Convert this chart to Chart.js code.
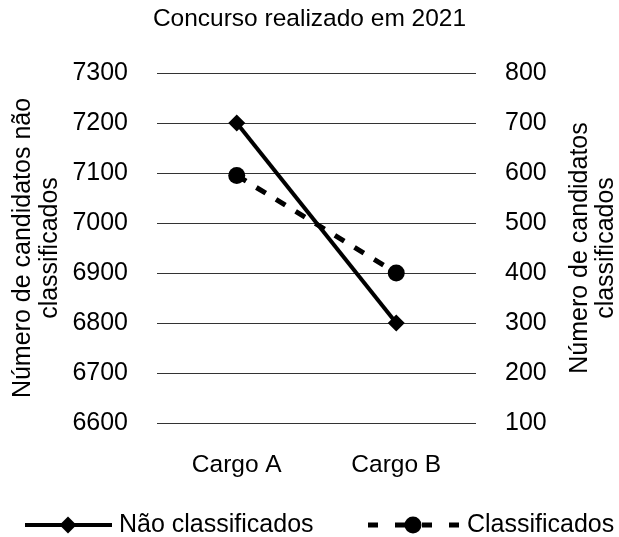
<!DOCTYPE html>
<html>
<head>
<meta charset="utf-8">
<script src="https://cdn.jsdelivr.net/npm/chart.js@4"></script>
<style>
  html, body { margin: 0; padding: 0; background: #fff; }
  #c { display: block; }
</style>
</head>
<body>
<canvas id="c" width="619" height="537"></canvas>
<script>
// Data
const categories = ['Cargo A', 'Cargo B'];
const naoClassificados = [7200, 6800];
const classificados = [595, 400];
const leftRange = [6600, 7300];
const rightRange = [100, 800];
const tickStep = 100;

// Texts
const chartTitle = 'Concurso realizado em 2021';
const leftAxisTitle = ['Número de candidatos não', 'classificados'];
const rightAxisTitle = ['Número de candidatos', 'classificados'];
const seriesNames = ['Não classificados', 'Classificados'];

const FONT = '"Liberation Sans", Arial, sans-serif';
const FONT_SIZE = 25;
const INK = '#000';

// Side titles (both read bottom-to-top) and bottom legend
const decorations = {
  id: 'decorations',
  afterDraw(chart) {
    const ctx = chart.ctx;
    const area = chart.chartArea;
    const cy = (area.top + area.bottom) / 2;
    ctx.save();
    ctx.fillStyle = INK;
    ctx.font = FONT_SIZE + 'px ' + FONT;
    ctx.textAlign = 'center';
    ctx.textBaseline = 'middle';
    const drawVertical = (lines, xs) => {
      lines.forEach((t, i) => {
        ctx.save();
        ctx.translate(xs[i], cy);
        ctx.rotate(-Math.PI / 2);
        ctx.fillText(t, 0, 0);
        ctx.restore();
      });
    };
    drawVertical(leftAxisTitle, [23, 50]);
    drawVertical(rightAxisTitle, [580, 606]);

    // legend
    const ly = 525;
    const ds = chart.data.datasets;
    // solid series
    ctx.strokeStyle = ds[0].borderColor;
    ctx.lineWidth = ds[0].borderWidth;
    ctx.setLineDash([]);
    ctx.beginPath();
    ctx.moveTo(25, ly); ctx.lineTo(112, ly);
    ctx.stroke();
    ctx.fillStyle = INK;
    ctx.beginPath();
    const dx = 68, r = 8.5;
    ctx.moveTo(dx, ly - r); ctx.lineTo(dx + r, ly); ctx.lineTo(dx, ly + r); ctx.lineTo(dx - r, ly);
    ctx.closePath();
    ctx.fill();
    ctx.textAlign = 'left';
    ctx.fillText(seriesNames[0], 119, ly);

    // dashed series
    ctx.strokeStyle = ds[1].borderColor;
    ctx.lineWidth = ds[1].borderWidth;
    ctx.setLineDash([10, 17]);
    ctx.beginPath();
    ctx.moveTo(368, ly); ctx.lineTo(459, ly);
    ctx.stroke();
    ctx.setLineDash([]);
    ctx.beginPath();
    ctx.arc(413, ly, 8.5, 0, Math.PI * 2);
    ctx.fill();
    ctx.fillText(seriesNames[1], 467, ly);
    ctx.restore();
  }
};

const plainTick = (v) => String(v);

new Chart(document.getElementById('c'), {
  type: 'line',
  data: {
    labels: categories,
    datasets: [
      {
        label: seriesNames[0],
        data: naoClassificados,
        yAxisID: 'y',
        borderColor: INK,
        backgroundColor: INK,
        borderWidth: 4,
        pointStyle: 'rectRot',
        pointRadius: 8.5,
        pointBorderWidth: 0,
        pointBackgroundColor: INK,
        tension: 0
      },
      {
        label: seriesNames[1],
        data: classificados,
        yAxisID: 'y1',
        borderColor: INK,
        backgroundColor: INK,
        borderWidth: 5,
        borderDash: [11, 12],
        pointStyle: 'circle',
        pointRadius: 8.5,
        pointBorderWidth: 0,
        pointBackgroundColor: INK,
        tension: 0
      }
    ]
  },
  options: {
    responsive: false,
    animation: false,
    layout: { padding: { top: 0, bottom: 54, left: 0, right: 0 } },
    plugins: {
      legend: { display: false },
      tooltip: { enabled: false },
      title: {
        display: true,
        text: chartTitle,
        color: INK,
        font: { family: FONT, size: 24.5, weight: 'normal' },
        padding: { top: 5, bottom: 38.6 }
      }
    },
    scales: {
      x: {
        offset: true,
        grid: { display: false, drawTicks: false },
        border: { display: false },
        ticks: { color: INK, font: { family: FONT, size: 24.5 }, padding: 28 },
        afterFit(s) { s.height = 60; }
      },
      y: {
        position: 'left',
        min: leftRange[0],
        max: leftRange[1],
        ticks: { stepSize: tickStep, callback: plainTick, color: INK, font: { family: FONT, size: FONT_SIZE }, padding: 29 },
        grid: { color: '#333', lineWidth: 1, drawTicks: false },
        border: { display: false },
        afterFit(s) { s.width = 157; }
      },
      y1: {
        position: 'right',
        min: rightRange[0],
        max: rightRange[1],
        ticks: { stepSize: tickStep, callback: plainTick, color: INK, font: { family: FONT, size: FONT_SIZE }, padding: 29 },
        grid: { display: false, drawTicks: false },
        border: { display: false },
        afterFit(s) { s.width = 143; }
      }
    }
  },
  plugins: [decorations]
});
</script>
</body>
</html>
